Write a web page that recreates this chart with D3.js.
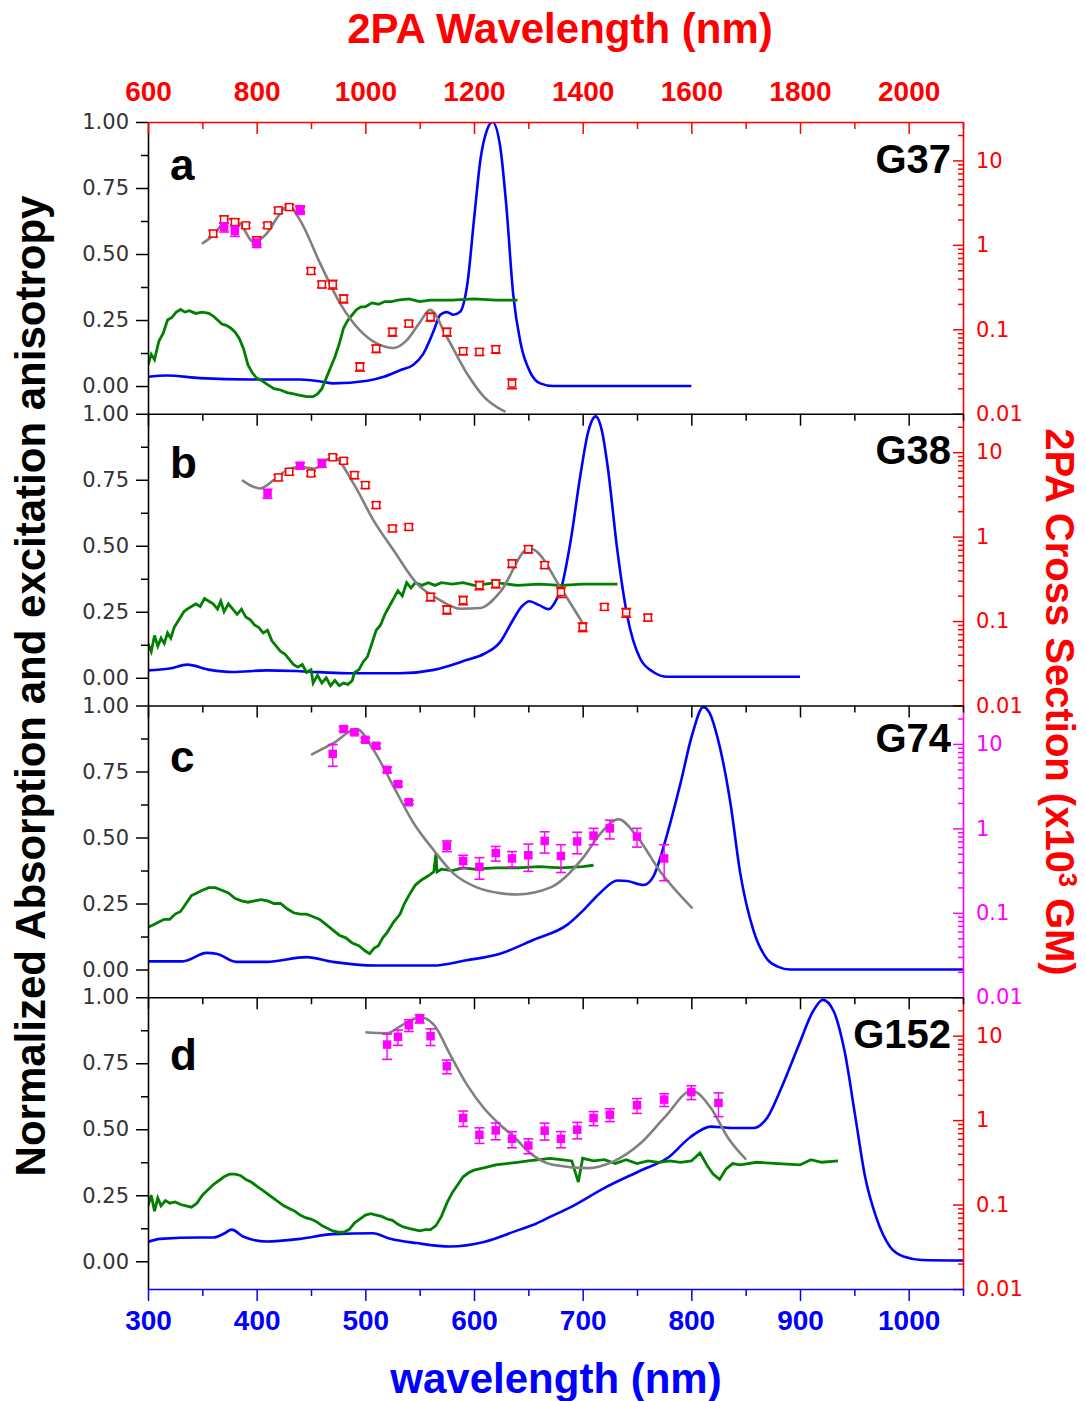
<!DOCTYPE html>
<html>
<head>
<meta charset="utf-8">
<script src="https://cdn.jsdelivr.net/npm/d3@7"></script>
<style>
  body { margin: 0; background: #fff; }
  svg { display: block; }
</style>
</head>
<body>
<script>
// ---- data: one-photon absorption (nm, normalized) ----
const absA = [[300,0.035],[317,0.04],[348,0.03],[394,0.025],[440,0.025],[462,0.015],[470,0.01],[502,0.02],[517,0.035],[532,0.06],[544,0.08],[553,0.12],[563,0.21],[569,0.27],[575,0.28],[581,0.27],[587,0.28],[594,0.39],[600,0.63],[606,0.86],[612,0.97],[617,1.0],[624,0.91],[630,0.67],[636,0.35],[643,0.16],[652,0.05],[661,0.01],[673,0.0],[800,0.0]];
const absB = [[300,0.028],[320,0.035],[336,0.05],[357,0.03],[378,0.022],[409,0.028],[440,0.025],[483,0.017],[532,0.017],[563,0.03],[593,0.067],[609,0.09],[624,0.135],[636,0.22],[644,0.27],[651,0.29],[660,0.275],[669,0.26],[675,0.29],[680,0.335],[689,0.52],[698,0.77],[705,0.93],[712,0.99],[718,0.93],[723,0.80],[732,0.48],[741,0.235],[753,0.072],[765,0.022],[778,0.004],[900,0.004]];
const absC = [[300,0.031],[332,0.031],[354,0.063],[363,0.06],[381,0.029],[409,0.029],[446,0.047],[470,0.029],[510,0.015],[562,0.015],[593,0.035],[624,0.06],[655,0.113],[686,0.17],[701,0.226],[716,0.29],[732,0.337],[741,0.335],[756,0.32],[765,0.352],[778,0.516],[790,0.705],[801,0.893],[811,0.994],[817,0.97],[824,0.88],[836,0.63],[845,0.365],[857,0.15],[870,0.038],[880,0.01],[891,0.0],[1050,0.0]];
const absD = [[300,0.073],[311,0.085],[348,0.09],[360,0.09],[370,0.105],[377,0.12],[388,0.093],[409,0.075],[440,0.085],[470,0.103],[507,0.106],[523,0.085],[547,0.069],[578,0.056],[609,0.073],[640,0.117],[657,0.142],[670,0.168],[689,0.205],[721,0.28],[753,0.343],[779,0.394],[799,0.47],[818,0.51],[837,0.505],[857,0.505],[870,0.545],[883,0.658],[899,0.82],[912,0.947],[921,0.99],[931,0.947],[941,0.796],[951,0.545],[960,0.318],[970,0.168],[983,0.054],[996,0.017],[1012,0.005],[1050,0.003]];

// ---- data: excitation anisotropy (nm, r) ----
const anisA = [[300,0.08],[303,0.12],[306,0.10],[310,0.17],[314,0.20],[318,0.25],[322,0.26],[326,0.28],[330,0.29],[334,0.28],[338,0.285],[344,0.275],[350,0.28],[356,0.275],[360,0.265],[364,0.25],[368,0.235],[372,0.23],[376,0.22],[380,0.205],[384,0.18],[388,0.14],[392,0.08],[396,0.05],[400,0.03],[405,0.02],[410,0.005],[416,-0.01],[422,-0.015],[428,-0.025],[434,-0.03],[440,-0.035],[446,-0.04],[452,-0.04],[456,-0.03],[460,-0.01],[464,0.03],[468,0.07],[472,0.11],[476,0.16],[480,0.22],[484,0.25],[488,0.27],[492,0.29],[496,0.30],[500,0.30],[506,0.315],[512,0.31],[518,0.32],[524,0.32],[530,0.325],[540,0.33],[550,0.32],[560,0.325],[580,0.325],[600,0.33],[620,0.325],[640,0.325]];
const anisB = [[300,0.13],[303,0.10],[306,0.16],[309,0.12],[312,0.15],[315,0.13],[318,0.17],[321,0.15],[324,0.19],[327,0.21],[330,0.23],[333,0.25],[336,0.26],[340,0.27],[344,0.28],[348,0.27],[352,0.30],[356,0.29],[360,0.28],[364,0.26],[367,0.29],[370,0.25],[374,0.28],[378,0.26],[382,0.24],[386,0.26],[390,0.23],[394,0.22],[398,0.20],[402,0.19],[406,0.17],[410,0.18],[414,0.14],[418,0.12],[422,0.10],[426,0.09],[430,0.07],[434,0.05],[438,0.04],[442,0.05],[446,0.02],[450,0.03],[452,-0.02],[456,0.01],[460,-0.02],[464,0.0],[468,-0.03],[472,-0.01],[476,-0.03],[480,-0.02],[484,-0.025],[488,-0.01],[490,0.02],[494,0.03],[498,0.06],[502,0.08],[506,0.13],[510,0.18],[514,0.20],[518,0.24],[522,0.27],[526,0.30],[530,0.33],[534,0.31],[538,0.36],[542,0.34],[546,0.36],[552,0.35],[558,0.36],[564,0.35],[570,0.36],[580,0.355],[590,0.36],[600,0.35],[610,0.355],[620,0.36],[640,0.35],[660,0.355],[680,0.35],[700,0.355],[720,0.355],[732,0.355]];
const anisC = [[300,0.16],[305,0.17],[310,0.18],[315,0.19],[320,0.19],[325,0.21],[330,0.22],[335,0.25],[340,0.28],[345,0.29],[350,0.30],[356,0.31],[362,0.31],[368,0.30],[374,0.29],[380,0.27],[386,0.26],[392,0.255],[398,0.26],[404,0.265],[410,0.26],[416,0.25],[422,0.25],[428,0.23],[434,0.215],[440,0.21],[446,0.21],[452,0.20],[458,0.19],[464,0.17],[470,0.15],[476,0.13],[482,0.12],[488,0.10],[494,0.09],[500,0.07],[504,0.06],[508,0.08],[512,0.09],[516,0.12],[520,0.14],[526,0.18],[532,0.21],[536,0.25],[540,0.28],[546,0.32],[552,0.34],[558,0.355],[563,0.37],[565,0.44],[566,0.37],[570,0.38],[580,0.375],[590,0.385],[600,0.38],[620,0.385],[640,0.385],[660,0.39],[680,0.385],[700,0.39],[710,0.395]];
const anisD = [[300,0.21],[303,0.25],[306,0.19],[309,0.24],[312,0.21],[316,0.23],[320,0.22],[325,0.225],[330,0.215],[335,0.21],[340,0.205],[345,0.22],[350,0.25],[355,0.27],[360,0.29],[365,0.305],[370,0.32],[375,0.33],[380,0.33],[385,0.325],[390,0.31],[395,0.30],[400,0.285],[405,0.27],[410,0.255],[415,0.24],[420,0.225],[425,0.21],[430,0.20],[435,0.19],[440,0.175],[445,0.165],[450,0.16],[455,0.15],[460,0.135],[465,0.125],[470,0.115],[475,0.11],[480,0.11],[485,0.12],[490,0.145],[495,0.16],[500,0.175],[505,0.18],[510,0.175],[515,0.17],[520,0.16],[525,0.155],[530,0.14],[535,0.13],[540,0.125],[545,0.12],[550,0.115],[555,0.12],[560,0.12],[565,0.135],[570,0.17],[575,0.22],[580,0.26],[585,0.29],[590,0.32],[595,0.335],[600,0.345],[610,0.355],[620,0.365],[630,0.37],[640,0.375],[650,0.38],[660,0.385],[670,0.39],[680,0.385],[690,0.38],[696,0.30],[700,0.39],[710,0.38],[720,0.385],[730,0.37],[740,0.385],[750,0.37],[760,0.38],[770,0.375],[780,0.38],[790,0.375],[800,0.38],[808,0.41],[815,0.36],[820,0.33],[826,0.31],[832,0.35],[838,0.37],[845,0.365],[860,0.375],[880,0.37],[900,0.365],[910,0.385],[920,0.375],[935,0.38]];

// ---- data: 2PA fit curves (2PA nm, x10^3 GM) ----
const fitA = [[699,1.03],[720,1.30],[740,1.85],[751,2.04],[770,1.78],[794,1.08],[818,1.35],[840,2.2],[858,2.93],[880,1.95],[917,0.60],[954,0.20],[990,0.097],[1021,0.068],[1052,0.060],[1076,0.074],[1100,0.12],[1119,0.17],[1150,0.081],[1187,0.030],[1218,0.016],[1258,0.0105]];
const fitB = [[773,4.67],[790,4.0],[806,3.72],[830,4.6],[855,6.1],[880,6.7],[905,6.4],[941,8.8],[978,4.27],[1015,1.56],[1052,0.69],[1095,0.277],[1138,0.176],[1175,0.14],[1212,0.143],[1248,0.22],[1301,0.72],[1310,0.70],[1359,0.25],[1399,0.097]];
const fitC = [[900,7.43],[941,10.2],[984,15.0],[1015,8.5],[1052,3.12],[1089,1.15],[1126,0.55],[1162,0.293],[1205,0.20],[1250,0.17],[1279,0.165],[1341,0.20],[1402,0.46],[1433,0.875],[1466,1.28],[1500,0.80],[1543,0.306],[1602,0.113]];
const fitD = [[1000,10.97],[1040,10.7],[1064,12.9],[1101,16.5],[1126,13.5],[1156,5.97],[1187,2.63],[1218,1.39],[1248,0.88],[1279,0.585],[1300,0.425],[1345,0.296],[1410,0.27],[1455,0.32],[1507,0.535],[1552,1.1],[1601,2.23],[1636,1.39],[1668,0.61],[1701,0.34]];

// ---- data: measured 2PA cross sections (2PA nm, value, error) ----
const tpaRedA = [[720,1.36,0.12],[740,2.0,0.2],[760,1.86,0.15],[780,1.70,0.12],[800,1.13,0.12],[820,1.70,0.12],[840,2.56,0.2],[860,2.80,0.2],[880,2.63,0.2],[900,0.49,0.04],[920,0.34,0.03],[940,0.34,0.04],[960,0.23,0.025],[990,0.036,0.004],[1020,0.059,0.006],[1050,0.093,0.01],[1080,0.117,0.01],[1120,0.14,0.015],[1150,0.093,0.01],[1180,0.055,0.005],[1210,0.054,0.005],[1240,0.058,0.006],[1270,0.0228,0.003]];
const tpaMagA = [[740,1.62,0.2],[760,1.46,0.2],[800,1.05,0.12],[880,2.6,0.3]];
const tpaRedB = [[840,5.02,0.4],[860,5.86,0.5],[900,5.6,0.4],[940,8.7,0.6],[960,7.9,0.6],[980,5.35,0.5],[1000,4.07,0.35],[1020,2.36,0.2],[1050,1.25,0.1],[1080,1.30,0.1],[1120,0.193,0.02],[1150,0.136,0.015],[1180,0.176,0.02],[1210,0.265,0.03],[1240,0.277,0.03],[1270,0.48,0.05],[1300,0.71,0.07],[1330,0.46,0.04],[1360,0.22,0.03],[1400,0.085,0.01],[1440,0.147,0.012],[1480,0.126,0.015],[1520,0.11,0.01]];
const tpaMagB = [[820,3.24,0.4],[880,6.9,0.6],[920,7.4,0.8]];
const tpaRedC = [];
const tpaMagC = [[940,7.63,2.2],[960,15.0,1.0],[980,13.7,0.7],[1000,11.2,0.6],[1020,9.5,0.6],[1040,4.93,0.35],[1060,3.34,0.2],[1080,2.04,0.1],[1150,0.62,0.09],[1180,0.41,0.07],[1210,0.35,0.1],[1240,0.51,0.1],[1270,0.44,0.09],[1300,0.48,0.17],[1330,0.71,0.2],[1360,0.47,0.17],[1390,0.70,0.2],[1420,0.82,0.18],[1450,1.0,0.25],[1500,0.80,0.2],[1550,0.44,0.2]];
const tpaRedD = [];
const tpaMagD = [[1040,7.84,2.6],[1060,9.68,2.0],[1080,13.3,2.1],[1100,15.9,1.8],[1120,9.84,2.2],[1150,4.34,0.8],[1180,1.06,0.22],[1210,0.67,0.14],[1240,0.755,0.17],[1270,0.60,0.13],[1300,0.50,0.1],[1330,0.75,0.17],[1360,0.60,0.13],[1390,0.77,0.17],[1420,1.06,0.2],[1450,1.16,0.2],[1500,1.50,0.3],[1550,1.75,0.3],[1600,2.15,0.4],[1650,1.60,0.5]];

// ---- tick labels ----
const panelLetters = ['a', 'b', 'c', 'd'];
const compoundNames = ['G37', 'G38', 'G74', 'G152'];
const leftTicks = [0, 0.25, 0.5, 0.75, 1];
const rightTicks = [0.01, 0.1, 1, 10];
const bottomTicks = [300, 400, 500, 600, 700, 800, 900, 1000];
const topTicks = [600, 800, 1000, 1200, 1400, 1600, 1800, 2000];

// ---- layout ----
const width = 1086;
const height = 1401;
const left = 148, right = 963;
const firstTop = 122, ph = 291.75;
const RED = '#ff0000', MAG = '#ff00ff', BLUE = '#0000ff', GREEN = '#007f00', GRAY = '#808080';
const boldFont = '"Liberation Sans", Arial, sans-serif';
const tickFont = '"DejaVu Sans", sans-serif';

const svg = d3.select('body')
  .append('svg')
  .attr('width', width)
  .attr('height', height);

const x = d3.scaleLinear().domain([300, 1050]).range([left, right]);
const x2 = d3.scaleLinear().domain([600, 2100]).range([left, right]);

const panels = [
  { abs: absA, anis: anisA, fit: fitA, red: tpaRedA, mag: tpaMagA, rColor: RED, letterDy: 58, nameDy: 51 },
  { abs: absB, anis: anisB, fit: fitB, red: tpaRedB, mag: tpaMagB, rColor: RED, letterDy: 64, nameDy: 50 },
  { abs: absC, anis: anisC, fit: fitC, red: tpaRedC, mag: tpaMagC, rColor: MAG, letterDy: 66, nameDy: 46 },
  { abs: absD, anis: anisD, fit: fitD, red: tpaRedD, mag: tpaMagD, rColor: RED, letterDy: 73, nameDy: 51 },
];

function styleAxis(sel, color, width) {
  sel.selectAll('.domain').attr('stroke', color).attr('stroke-width', width || 1.6);
  sel.selectAll('.tick line').attr('stroke', color).attr('stroke-width', 1.5);
}

function drawPoints(sel, data, color, filled, yr) {
  const pts = sel.append('g').selectAll('g').data(data).join('g');
  const lo = d => yr(Math.max(d[1] - d[2], 0.004));
  const hi = d => yr(d[1] + d[2]);
  pts.append('line')
    .attr('x1', d => x2(d[0])).attr('x2', d => x2(d[0]))
    .attr('y1', lo).attr('y2', hi)
    .attr('stroke', color).attr('stroke-width', 1.4);
  [lo, hi].forEach(f => {
    pts.append('line')
      .attr('x1', d => x2(d[0]) - 5).attr('x2', d => x2(d[0]) + 5)
      .attr('y1', f).attr('y2', f)
      .attr('stroke', color).attr('stroke-width', 1.6);
  });
  pts.append('rect')
    .attr('x', d => x2(d[0]) - 3.5).attr('y', d => yr(d[1]) - 3.5)
    .attr('width', 7).attr('height', 7)
    .attr('fill', filled ? color : '#fff')
    .attr('stroke', color).attr('stroke-width', 1.5);
}

panels.forEach((p, i) => {
  const t = firstTop + i * ph;
  const b = t + ph;
  const y = d3.scaleLinear().domain([-0.105, 1]).range([b, t]);
  const yr = d3.scaleLog().domain([0.01, 28.5]).range([b, t]);

  const clipId = 'clip' + i;
  svg.append('clipPath').attr('id', clipId)
    .append('rect').attr('x', left).attr('y', t).attr('width', right - left).attr('height', ph);

  const plot = svg.append('g').attr('clip-path', `url(#${clipId})`);
  const line = d3.line().x(d => x(d[0])).y(d => y(d[1]));
  const smooth = d3.line().x(d => x(d[0])).y(d => y(d[1])).curve(d3.curveMonotoneX);
  const fitLine = d3.line().x(d => x2(d[0])).y(d => yr(d[1])).curve(d3.curveMonotoneX);

  plot.append('path').datum(p.abs).attr('d', smooth)
    .attr('fill', 'none').attr('stroke', BLUE).attr('stroke-width', 2.6);
  plot.append('path').datum(p.anis).attr('d', line)
    .attr('fill', 'none').attr('stroke', GREEN).attr('stroke-width', 2.8);
  plot.append('path').datum(p.fit).attr('d', fitLine)
    .attr('fill', 'none').attr('stroke', GRAY).attr('stroke-width', 2.6);

  drawPoints(svg, p.red, RED, false, yr);
  drawPoints(svg, p.mag, MAG, true, yr);

  // left axis
  const la = svg.append('g').attr('transform', `translate(${left},0)`)
    .call(d3.axisLeft(y).tickValues(leftTicks).tickFormat(d3.format('.2f'))
      .tickSize(12).tickPadding(7).tickSizeOuter(0));
  styleAxis(la, '#000');
  la.selectAll('text').attr('fill', '#333').style('font', `21px ${tickFont}`);
  const lm = svg.append('g').attr('transform', `translate(${left},0)`)
    .call(d3.axisLeft(y).tickValues([0.125, 0.375, 0.625, 0.875]).tickFormat('').tickSize(7));
  lm.select('.domain').remove();
  styleAxis(lm, '#000');

  // right log axis
  const ra = svg.append('g').attr('transform', `translate(${right},0)`)
    .call(d3.axisRight(yr).tickValues(rightTicks).tickFormat(d3.format('~g'))
      .tickSize(-10).tickPadding(13).tickSizeOuter(0));
  styleAxis(ra, p.rColor);
  ra.selectAll('text').attr('fill', p.rColor).style('font', `21px ${tickFont}`);
  const minorLog = [];
  [0.01, 0.1, 1, 10].forEach(dec => d3.range(2, 10).forEach(k => {
    if (dec * k <= 28.5) minorLog.push(dec * k);
  }));
  const rm = svg.append('g').attr('transform', `translate(${right},0)`)
    .call(d3.axisRight(yr).tickValues(minorLog).tickFormat('').tickSize(-5));
  rm.select('.domain').remove();
  styleAxis(rm, p.rColor);

  // top edge of each panel (ticks inward)
  const edgeColor = i === 0 ? RED : '#000';
  const ta = svg.append('g').attr('transform', `translate(0,${t})`)
    .call(d3.axisBottom(x).tickValues(bottomTicks).tickFormat('').tickSize(12).tickSizeOuter(0));
  styleAxis(ta, edgeColor);
  const tm = svg.append('g').attr('transform', `translate(0,${t})`)
    .call(d3.axisBottom(x).tickValues(d3.range(350, 1051, 100)).tickFormat('').tickSize(7));
  tm.select('.domain').remove();
  styleAxis(tm, edgeColor);

  // panel labels
  svg.append('text').attr('x', 170).attr('y', t + p.letterDy)
    .attr('fill', '#000').style('font', `bold 44px ${boldFont}`).text(panelLetters[i]);
  svg.append('text').attr('x', 951).attr('y', t + p.nameDy).attr('text-anchor', 'end')
    .attr('fill', '#000').style('font', `bold 40px ${boldFont}`).text(compoundNames[i]);

  // bottom axis of the last panel
  if (i === panels.length - 1) {
    const ba = svg.append('g').attr('transform', `translate(0,${b})`)
      .call(d3.axisBottom(x).tickValues(bottomTicks).tickFormat(d3.format('d'))
        .tickSize(12).tickPadding(9).tickSizeOuter(0));
    styleAxis(ba, BLUE);
    ba.selectAll('text').attr('fill', BLUE).style('font', `bold 28px ${boldFont}`);
    const bm = svg.append('g').attr('transform', `translate(0,${b})`)
      .call(d3.axisBottom(x).tickValues(d3.range(350, 1051, 100)).tickFormat('').tickSize(7));
    bm.select('.domain').remove();
    styleAxis(bm, BLUE);
  }
});

// top 2PA wavelength labels
const topLab = svg.append('g').attr('transform', `translate(0,${firstTop})`)
  .call(d3.axisTop(x2).tickValues(topTicks).tickFormat(d3.format('d')).tickSize(0).tickPadding(21));
topLab.select('.domain').remove();
topLab.selectAll('text').attr('fill', RED).style('font', `bold 28px ${boldFont}`);

// axis titles
svg.append('text').attr('x', 560).attr('y', 43).attr('text-anchor', 'middle')
  .attr('fill', RED).style('font', `bold 42px ${boldFont}`).text('2PA Wavelength (nm)');
svg.append('text').attr('x', 556).attr('y', 1393).attr('text-anchor', 'middle')
  .attr('fill', BLUE).style('font', `bold 42px ${boldFont}`).text('wavelength (nm)');
svg.append('text').attr('transform', 'translate(45,686) rotate(-90)').attr('text-anchor', 'middle')
  .attr('fill', '#000').style('font', `bold 42px ${boldFont}`)
  .text('Normalized Absorption and excitation anisotropy');
const rt = svg.append('text').attr('transform', 'translate(1046,702) rotate(90)').attr('text-anchor', 'middle')
  .attr('fill', RED).style('font', `bold 40px ${boldFont}`);
rt.append('tspan').text('2PA Cross Section (x10');
rt.append('tspan').attr('dy', -13).style('font-size', '25px').text('3');
rt.append('tspan').attr('dy', 13).text(' GM)');
</script>
</body>
</html>
